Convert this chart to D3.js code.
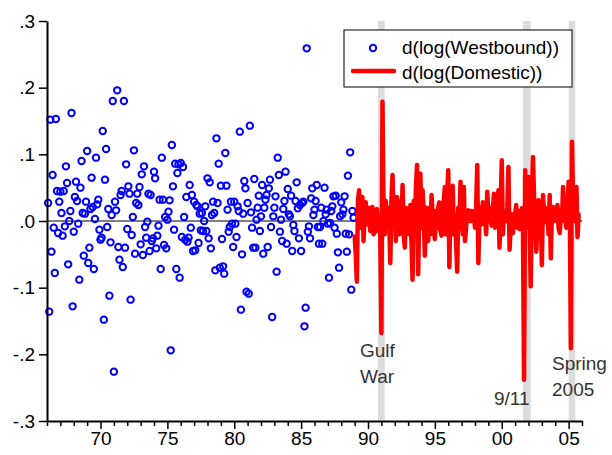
<!DOCTYPE html>
<html>
<head>
<meta charset="utf-8">
<script src="https://cdn.jsdelivr.net/npm/d3@7"></script>
<style>
  html, body { margin: 0; padding: 0; background: #fff; }
  svg { display: block; font-family: "Liberation Sans", Arial, sans-serif; }
</style>
</head>
<body>
<div id="chart"></div>
<script>
// monthly d(log) series, Westbound starts 1966:02, Domestic starts 1989:01
const westboundStart = 1966 + 1 / 12;
const westbound = [
  // 1966 (Feb-Dec)
  0.027, -0.136, 0.152, -0.046, 0.069, -0.010, -0.078, 0.153, 0.045, -0.018, 0.029,
  // 1967
  0.044, 0.012, -0.022, 0.045, -0.008, 0.082, 0.057, -0.065, 0.000, 0.015, 0.162, -0.128,
  // 1968
  -0.016, 0.036, 0.059, 0.030, -0.004, -0.088, 0.050, 0.090, 0.012, -0.052, 0.011, 0.029,
  // 1969
  0.105, -0.063, -0.040, 0.018, 0.065, 0.021, -0.072, 0.003, 0.095, 0.025, 0.032, -0.013,
  // 1970
  -0.028, -0.025, 0.135, -0.148, 0.062, 0.108, -0.009, 0.018, -0.112, -0.032, 0.009, 0.180,
  // 1971
  -0.226, 0.029, 0.016, 0.196, -0.039, -0.058, 0.039, 0.045, -0.069, 0.180, -0.040, 0.085,
  // 1972
  -0.012, 0.052, 0.041, -0.118, -0.021, 0.006, 0.106, -0.049, 0.027, 0.041, 0.024, 0.051,
  // 1973
  -0.035, 0.070, -0.051, 0.082, -0.009, -0.025, -0.001, 0.041, -0.045, 0.039, -0.030, -0.026,
  // 1974
  0.074, 0.064, -0.041, -0.022, -0.007, 0.032, -0.072, 0.095, 0.032, -0.036, 0.006, -0.041,
  // 1975
  0.002, 0.014, 0.031, -0.194, 0.114, 0.052, -0.013, 0.086, -0.072, 0.072, 0.085, -0.085,
  // 1976
  0.087, -0.024, 0.081, 0.006, -0.028, 0.036, -0.031, -0.025, 0.054, -0.010, 0.039, -0.045,
  // 1977
  0.029, -0.044, 0.024, 0.022, -0.033, 0.011, -0.014, 0.012, -0.015, 0.000, 0.022, -0.015,
  // 1978
  0.064, -0.026, 0.058, -0.041, 0.009, 0.029, 0.012, -0.074, 0.124, 0.027, 0.086, -0.070,
  // 1979
  0.053, -0.027, -0.068, -0.079, 0.102, 0.053, 0.017, -0.016, -0.009, 0.029, -0.004, -0.039,
  // 1980
  0.029, -0.004, -0.024, 0.022, 0.015, 0.134, -0.133, -0.050, 0.011, 0.060, 0.049, -0.106,
  // 1981
  0.027, -0.109, 0.143, 0.013, -0.010, -0.040, 0.063, -0.040, 0.002, 0.020, 0.038, -0.015,
  // 1982
  0.007, 0.054, -0.049, 0.020, 0.032, 0.039, -0.039, 0.049, 0.062, -0.009, -0.144, 0.007,
  // 1983
  0.020, 0.037, -0.076, 0.095, 0.069, -0.016, 0.002, -0.030, 0.018, 0.030, 0.074, -0.034,
  // 1984
  0.048, 0.010, 0.007, 0.038, -0.045, -0.006, -0.015, 0.030, 0.058, 0.019, -0.026, 0.024,
  // 1985
  -0.045, 0.027, 0.029, -0.158, -0.130, 0.259, -0.016, -0.008, -0.026, 0.034, 0.049, 0.009,
  // 1986
  0.017, 0.030, 0.054, -0.009, -0.034, -0.009, 0.020, -0.034, 0.000, 0.050, 0.010, 0.017,
  // 1987
  -0.004, -0.085, -0.003, 0.015, 0.022, 0.037, -0.010, 0.038, -0.019, -0.047, -0.070, 0.007,
  // 1988
  0.028, 0.010, 0.017, 0.037, -0.019, -0.046, 0.068, -0.020, 0.103, -0.103, 0.015, 0.005
];

const domesticStart = 1989;
const domestic = [
  // 1989
  -0.020, -0.050, -0.091, 0.030, 0.046, -0.010, 0.020, 0.036, -0.030, 0.010, 0.028, -0.005,
  // 1990
  -0.005, 0.020, -0.015, 0.010, 0.021, -0.020, 0.012, -0.016, 0.018, -0.010, 0.005, -0.020,
  // 1991
  -0.168, 0.179, 0.010, -0.020, 0.030, -0.010, 0.020, 0.000, -0.063, 0.030, 0.069, -0.010,
  // 1992
  0.020, -0.030, 0.036, 0.010, -0.020, 0.030, -0.010, 0.054, -0.020, -0.040, 0.020, -0.010,
  // 1993
  0.015, -0.020, 0.024, -0.030, -0.088, 0.030, -0.010, 0.050, 0.084, -0.080, 0.020, 0.071,
  // 1994
  -0.010, 0.046, 0.010, -0.052, 0.020, 0.020, -0.030, 0.010, -0.020, 0.039, 0.010, -0.010,
  // 1995
  -0.027, 0.015, -0.010, 0.020, 0.028, -0.015, -0.022, 0.010, 0.030, 0.051, -0.020, 0.040,
  // 1996
  0.076, -0.069, 0.030, 0.020, 0.053, -0.020, 0.010, -0.030, -0.076, 0.020, -0.010, 0.059,
  // 1997
  0.010, -0.020, 0.051, -0.030, -0.010, 0.012, 0.016, 0.005, 0.000, 0.015, 0.004, 0.009,
  // 1998
  -0.010, 0.020, 0.084, -0.063, 0.010, 0.020, -0.005, 0.028, 0.000, 0.010, -0.020, 0.044,
  // 1999
  0.010, 0.020, 0.000, -0.007, 0.015, 0.041, -0.010, 0.020, 0.010, 0.046, -0.040, 0.020,
  // 2000
  0.091, -0.020, 0.010, 0.002, 0.000, 0.020, 0.081, -0.043, -0.010, 0.010, -0.018, 0.005,
  // 2001
  0.010, 0.024, -0.010, 0.015, -0.012, 0.000, 0.019, 0.000, -0.238, 0.076, 0.020, -0.010,
  // 2002
  0.066, 0.000, -0.098, 0.030, 0.096, 0.036, 0.010, -0.046, 0.000, 0.031, 0.020, 0.010,
  // 2003
  -0.066, 0.039, 0.010, 0.020, -0.002, 0.010, -0.020, 0.039, -0.056, 0.015, 0.021, 0.000,
  // 2004
  0.010, 0.015, 0.024, -0.010, -0.018, 0.005, 0.000, 0.051, 0.010, 0.006, -0.010, 0.020,
  // 2005 (Jan-Nov)
  0.059, 0.030, -0.191, 0.119, 0.030, 0.021, 0.000, 0.051, -0.024, 0.010, 0.009
];

// shaded events (decimal years)
const eventNames = [["Gulf", "War"], ["9/11"], ["Spring", "2005"]];
const eventStart = [1990 + 9 / 12, 2001 + 7 / 12, 2005];
const eventEnd = [1991 + 3 / 12, 2002 + 2 / 12, 2005 + 6 / 12];

const yTicks = [-0.3, -0.2, -0.1, 0, 0.1, 0.2, 0.3];
const xTicks = d3.range(1966, 2007);
const xLabelYears = [1970, 1975, 1980, 1985, 1990, 1995, 2000, 2005];
const seriesNames = ["d(log(Westbound))", "d(log(Domestic))"];

const width = 612, height = 455;
const margin = { top: 21, right: 30, bottom: 34, left: 47 };

const svg = d3.select("#chart").append("svg")
  .attr("width", width)
  .attr("height", height);

const x = d3.scaleLinear()
  .domain([1966, 2006])
  .range([margin.left, width - margin.right]);

const y = d3.scaleLinear()
  .domain([-0.3, 0.3])
  .range([height - margin.bottom, margin.top]);

// gray shading bands
svg.append("g")
  .selectAll("rect")
  .data(eventStart)
  .join("rect")
    .attr("x", (d, i) => x(d))
    .attr("width", (d, i) => x(eventEnd[i]) - x(d))
    .attr("y", y(0.3))
    .attr("height", y(-0.3) - y(0.3))
    .attr("fill", "#dcdcdc");

// zero line
svg.append("line")
  .attr("x1", x(1966)).attr("x2", x(2006))
  .attr("y1", y(0)).attr("y2", y(0))
  .attr("stroke", "#000")
  .attr("stroke-width", 1);

// event labels
const labelPos = [[360, 357], [494, 405], [552, 370]];
eventNames.forEach((lines, i) => {
  const t = svg.append("text")
    .attr("x", labelPos[i][0])
    .attr("y", labelPos[i][1])
    .attr("fill", "#333")
    .attr("font-size", 19);
  lines.forEach((s, j) => {
    t.append("tspan")
      .attr("x", labelPos[i][0])
      .attr("dy", j === 0 ? 0 : 26)
      .text(s);
  });
});

// Westbound circles
svg.append("g")
  .selectAll("circle")
  .data(westbound)
  .join("circle")
    .attr("cx", (d, i) => x(westboundStart + i / 12))
    .attr("cy", d => y(d))
    .attr("r", 3.2)
    .attr("fill", "none")
    .attr("stroke", "#0000ff")
    .attr("stroke-width", 2);

// Domestic line
const line = d3.line()
  .x((d, i) => x(domesticStart + i / 12))
  .y(d => y(d));

svg.append("path")
  .datum(domestic)
  .attr("d", line)
  .attr("fill", "none")
  .attr("stroke", "#ff0000")
  .attr("stroke-width", 4.5)
  .attr("stroke-linejoin", "round");

// axes
const fmtY = d => d === 0 ? ".0" : (d < 0 ? "-" : "") + "." + Math.round(Math.abs(d) * 10);

const yAxis = svg.append("g")
  .attr("transform", `translate(${margin.left},0)`)
  .call(d3.axisLeft(y).tickValues(yTicks).tickFormat(fmtY).tickSize(8).tickSizeOuter(0).tickPadding(4));

const xAxis = svg.append("g")
  .attr("transform", `translate(0,${y(-0.3)})`)
  .call(d3.axisBottom(x).tickValues(xTicks)
    .tickFormat(d => xLabelYears.includes(d) ? String(d).slice(2) : "")
    .tickSize(5).tickSizeOuter(0).tickPadding(6));

xAxis.selectAll(".tick line")
  .attr("y2", d => d % 5 === 0 ? 8 : 5);

[yAxis, xAxis].forEach(a => {
  a.select(".domain").attr("stroke-width", 2);
  a.selectAll(".tick line").attr("stroke-width", 1.5);
  a.selectAll("text")
    .attr("font-size", 19)
    .attr("font-family", "Liberation Sans, Arial, sans-serif")
    .attr("fill", "#000");
});

// legend
const legend = svg.append("g");
legend.append("rect")
  .attr("x", 344).attr("y", 30)
  .attr("width", 228).attr("height", 57)
  .attr("fill", "#fff")
  .attr("stroke", "#000")
  .attr("stroke-width", 1);

legend.append("circle")
  .attr("cx", 373).attr("cy", 48).attr("r", 3.2)
  .attr("fill", "none").attr("stroke", "#0000ff").attr("stroke-width", 2);

legend.append("line")
  .attr("x1", 353).attr("x2", 394)
  .attr("y1", 71).attr("y2", 71)
  .attr("stroke", "#ff0000").attr("stroke-width", 4.5)
  .attr("stroke-linecap", "round");

legend.selectAll("text.lbl")
  .data(seriesNames)
  .join("text")
    .attr("class", "lbl")
    .attr("x", 402)
    .attr("y", (d, i) => 54 + i * 25)
    .attr("font-size", 19)
    .attr("fill", "#000")
    .text(d => d);
</script>
</body>
</html>
